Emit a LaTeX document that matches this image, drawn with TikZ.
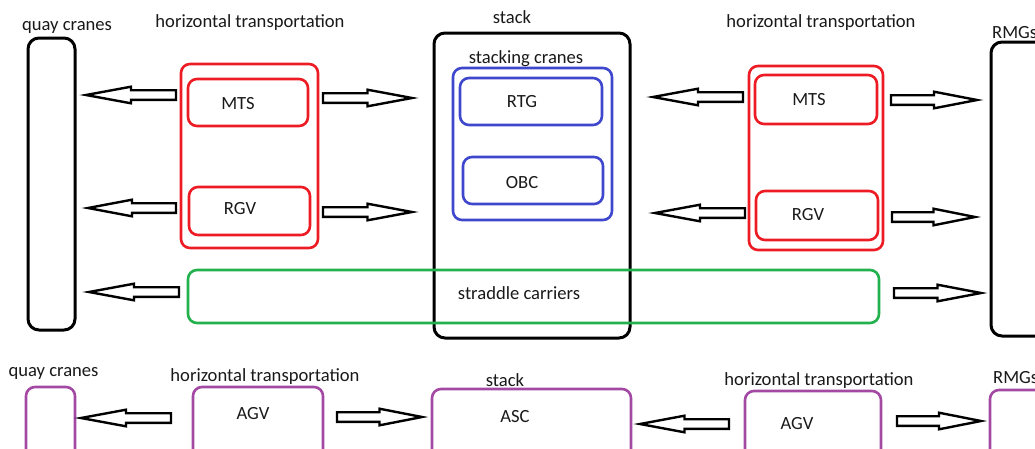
\documentclass[tikz,border=0pt]{standalone}
\usepackage{fontspec}
\setmainfont{Carlito}
\usetikzlibrary{fit,calc}
\definecolor{pred}{RGB}{237,28,36}
\definecolor{pblue}{RGB}{63,72,204}
\definecolor{pgreen}{RGB}{34,177,76}
\definecolor{ppurple}{RGB}{163,73,164}
\tikzset{
  box/.style={draw=#1, rounded corners=9pt, inner sep=0pt, outer sep=0pt, line width=2.6pt},
  blackbox/.style={box=black, line width=3pt, rounded corners=11pt},
  lbl/.style={anchor=base, inner sep=0pt, text=black!90, font=\fontsize{18.6}{20}\selectfont},
  lbll/.style={lbl, anchor=base west},
  % hollow block arrow between two points; #1 = gap at the tail, #2 = gap at the tip
  blockarrow/.style 2 args={draw=black, fill=white, line width=2.4pt, sharp corners,
    to path={
      let \p1=(\tikztostart), \p2=(\tikztotarget),
          \n1={sign(\x2-\x1)},
          \n2={\x1+\n1*#1},
          \n3={\x2-\n1*#2},
          \n4={(\n2+\n3)/2}
      in ({\n2},{\y1+4.8pt}) -- ({\n4},{\y1+4.8pt}) -- ({\n4},{\y1+8.3pt})
         -- ({\n3},{\y1}) -- ({\n4},{\y1-8.3pt}) -- ({\n4},{\y1-4.8pt})
         -- ({\n2},{\y1-4.8pt}) -- cycle
    }},
}
\begin{document}
\begin{tikzpicture}[x=1pt,y=-1pt]
\useasboundingbox (0,0) rectangle (1035,448);
\clip (0,0) rectangle (1035,448);

% ---------- upper layout ----------
\node[blackbox, fit={(28,38) (75,330)}] (qcT) {};
\node[box=pred, fit={(181,64) (318,248)}] (htl) {};
\node[box=pred, fit={(188,79) (308,126)}] (mtsL) {};
\node[box=pred, fit={(189,187) (310,235)}] (rgvL) {};
\node[blackbox, fit={(434,33) (630,338)}] (stack) {};
\node[box=pblue, fit={(453,68) (612,220)}] (scr) {};
\node[box=pblue, fit={(460,78) (602,125)}] (rtg) {};
\node[box=pblue, fit={(463,157) (603,204)}] (obc) {};
\node[box=pred, fit={(749,66) (883,250)}] (htr) {};
\node[box=pred, fit={(755,75) (877,124)}] (mtsR) {};
\node[box=pred, fit={(756,191) (878,240)}] (rgvR) {};
\node[blackbox, fit={(991,42) (1055,336)}] (rmgT) {};
\node[box=pgreen, fit={(188,270) (879,323)}] (sc) {};

\node[lbl] (tQc) at (67,30) {quay cranes};
\node[lbl] (tHl) at (250,27) {horizontal transportation};
\node[lbl] (tSt) at (512,23) {stack};
\node[lbl] (tScr) at (526,63) {stacking cranes};
\node[lbl] (tRtg) at (522,107) {RTG};
\node[lbl] (tObc) at (522,188) {OBC};
\node[lbl] (tMl) at (238,109) {MTS};
\node[lbl] (tRl) at (240,214) {RGV};
\node[lbl] (tHr) at (821,27) {horizontal transportation};
\node[lbll] (tRmg) at (992,38) {RMGs};
\node[lbl] (tMr) at (809,105) {MTS};
\node[lbl] (tRr) at (808,220) {RGV};
\node[lbl] (tSc) at (519,299) {straddle carriers};

\draw[blockarrow={5}{11}] (htl.west |- 0,95) to (qcT.east |- 0,95);
\draw[blockarrow={5}{13}] (htl.west |- 0,208) to (qcT.east |- 0,208);
\draw[blockarrow={5}{22}] (htl.east |- 0,98) to (stack.west |- 0,98);
\draw[blockarrow={5}{22}] (htl.east |- 0,212) to (stack.west |- 0,212);
\draw[blockarrow={6}{23}] (htr.west |- 0,97) to (stack.east |- 0,97);
\draw[blockarrow={4}{25}] (htr.west |- 0,213) to (stack.east |- 0,213);
\draw[blockarrow={8}{14}] (htr.east |- 0,100) to (rmgT.west |- 0,100);
\draw[blockarrow={9}{16}] (htr.east |- 0,217) to (rmgT.west |- 0,217);
\draw[blockarrow={9}{14}] (sc.west |- 0,292) to (qcT.east |- 0,292);
\draw[blockarrow={15}{10}] (sc.east |- 0,293) to (rmgT.west |- 0,293);

% ---------- lower layout ----------
\node[box=ppurple, fit={(26,387) (75,470)}] (qcB) {};
\node[box=ppurple, fit={(193,387) (323,470)}] (agvL) {};
\node[box=ppurple, fit={(432,389) (631,470)}] (asc) {};
\node[box=ppurple, fit={(745,391) (881,470)}] (agvR) {};
\node[box=ppurple, fit={(990,390) (1055,470)}] (rmgB) {};

\node[lbl] (bQc) at (53.5,376) {quay cranes};
\node[lbl] (bHl) at (265,381) {horizontal transportation};
\node[lbl] (bAl) at (253,419) {AGV};
\node[lbl] (bSt) at (505,386) {stack};
\node[lbl] (bAsc) at (515,422) {ASC};
\node[lbl] (bHr) at (819,385) {horizontal transportation};
\node[lbl] (bAr) at (797,429) {AGV};
\node[lbll] (bRmg) at (993,383) {RMGs};

\draw[blockarrow={22}{6}] (agvL.west |- 0,418) to (qcB.east |- 0,418);
\draw[blockarrow={14}{10}] (agvL.east |- 0,417) to (asc.west |- 0,417);
\draw[blockarrow={16}{9}] (agvR.west |- 0,424) to (asc.east |- 0,424);
\draw[blockarrow={16}{9}] (agvR.east |- 0,421) to (rmgB.west |- 0,421);
\end{tikzpicture}
\end{document}
